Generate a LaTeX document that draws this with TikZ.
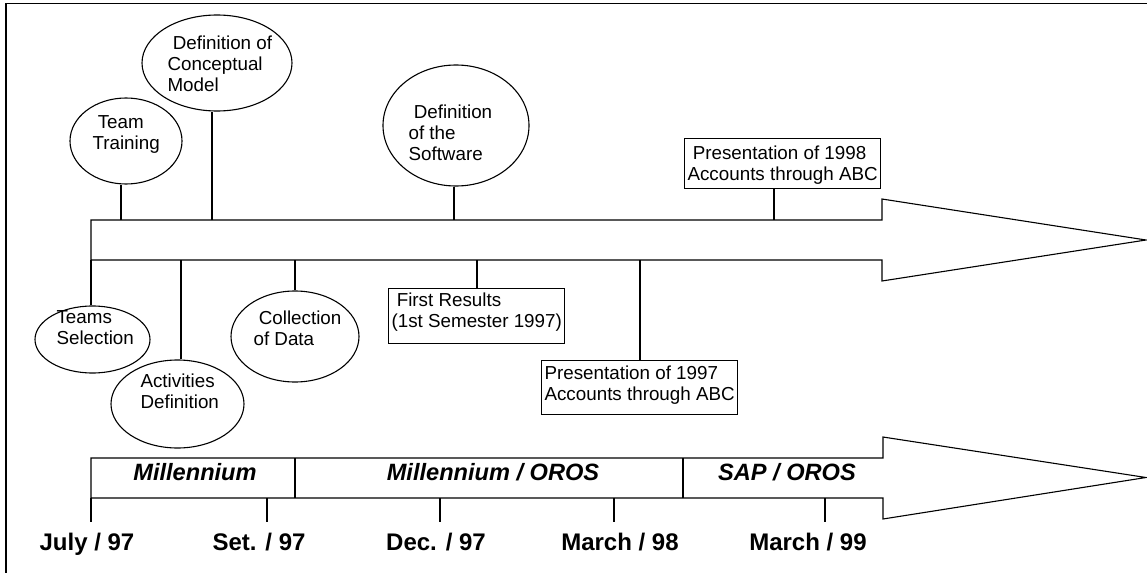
\documentclass[tikz,border=0pt]{standalone}
\usepackage{fontspec}
\setmainfont{Liberation Sans}
\usetikzlibrary{shapes.geometric}

\begin{document}
\begin{tikzpicture}[x=0.5pt, y=-0.5pt, line width=0.55pt,
  bubble/.style={draw, ellipse, inner sep=0pt},
  note/.style={anchor=north west, inner sep=0pt, align=left, font=\fontsize{9.4}{10.5}\selectfont},
  tag/.style={draw, anchor=north west, inner xsep=1.5pt, inner ysep=1pt, align=left, font=\fontsize{9.4}{10.5}\selectfont},
  era/.style={anchor=base, font=\fontsize{11.8}{14}\selectfont\bfseries\itshape},
  date/.style={anchor=base, inner xsep=0pt, inner ysep=5.2pt, font=\fontsize{12}{14}\selectfont\bfseries}]
\useasboundingbox (0,0) rectangle (1147,573);
\draw[line width=1.4pt] (6,573) -- (6,3.5);
\draw[line width=0.8pt] (5.3,3.5) -- (1147,3.5);

\draw (91,220) -- (882,220) -- (882,199) -- (1146,240) -- (882,281) -- (882,260) -- (91,260) -- cycle;
\draw (91,458) -- (883,458) -- (883,437) -- (1146,477.5) -- (883,519) -- (883,498) -- (91,498) -- cycle;
\draw (295,458) -- (295,498);
\draw (683,458) -- (683,498);

\node[bubble, minimum width=56pt, minimum height=43pt] (tt) at (126,141) {};
\node[bubble, minimum width=75pt, minimum height=48pt] (cm) at (217,63) {};
\node[bubble, minimum width=73pt, minimum height=60.5pt] (sw) at (456,125.5) {};
\node[bubble, minimum width=57.5pt, minimum height=33.5pt] (ts) at (92.5,339.5) {};
\node[bubble, minimum width=66.5pt, minimum height=44pt] (ad) at (177.5,404) {};
\node[bubble, minimum width=64pt, minimum height=45.5pt] (cd) at (295,336.5) {};

\node[note] (ttx) at (92,115.5) {\hspace*{.28em}Team\\Training};
\node[note] (cmx) at (167,35.8) {\hspace*{.28em}Definition of\\Conceptual\\Model};
\node[note] (swx) at (408,104.3) {\hspace*{.28em}Definition\\of the\\Software};
\node[note] (tsx) at (56,310.3) {Teams\\Selection};
\node[note] (adx) at (140,373.3) {Activities\\Definition};
\node[note] (cdx) at (253,310.3) {\hspace*{.28em}Collection\\of Data};

\node[tag] (b98) at (684,138) {\rule{0pt}{9.5pt}\hspace*{.28em}Presentation of 1998\\Accounts through ABC\rule[-3pt]{0pt}{3pt}};
\node[tag] (fr) at (388,288) {\rule{0pt}{8pt}\hspace*{.28em}First Results\\(1st Semester 1997)\rule[-7pt]{0pt}{7pt}};
\node[tag] (b97) at (541,360) {\rule{0pt}{8.5pt}Presentation of 1997\\Accounts through ABC\rule[-6pt]{0pt}{6pt}};

\coordinate (u1) at (121,220);
\coordinate (u2) at (212,220);
\coordinate (u3) at (454,220);
\coordinate (u4) at (774,220);
\draw (u1) -- (u1 |- tt.south);
\draw (u2) -- (u2 |- cm.south);
\draw (u3) -- (u3 |- sw.south);
\draw (u4) -- (u4 |- b98.south);

\coordinate (l1) at (91,260);
\coordinate (l2) at (181,260);
\coordinate (l3) at (295,260);
\coordinate (l4) at (477,260);
\coordinate (l5) at (640,260);
\draw (l1) -- (l1 |- ts.north);
\draw (l2) -- (l2 |- ad.north);
\draw (l3) -- (l3 |- cd.north);
\draw (l4) -- (l4 |- fr.north);
\draw (l5) -- (l5 |- b97.north);

\node[era] (mil) at (195,480) {Millennium};
\node[era] (mo) at (493,480) {Millennium / OROS};
\node[era] (so) at (787,480) {SAP / OROS};

\node[date] (jul) at (87,550) {July / 97};
\node[date] (set) at (259,550) {Set. / 97};
\node[date] (dec) at (436,550) {Dec. / 97};
\node[date] (mar98) at (620,550) {March / 98};
\node[date] (mar99) at (808,550) {March / 99};

\coordinate (k1) at (91,498);
\coordinate (k2) at (267,498);
\coordinate (k3) at (440,498);
\coordinate (k4) at (614,498);
\coordinate (k5) at (825,498);
\draw (k1) -- (k1 |- jul.north);
\draw (k2) -- (k2 |- set.north);
\draw (k3) -- (k3 |- dec.north);
\draw (k4) -- (k4 |- mar98.north);
\draw (k5) -- (k5 |- mar99.north);
\end{tikzpicture}
\end{document}
